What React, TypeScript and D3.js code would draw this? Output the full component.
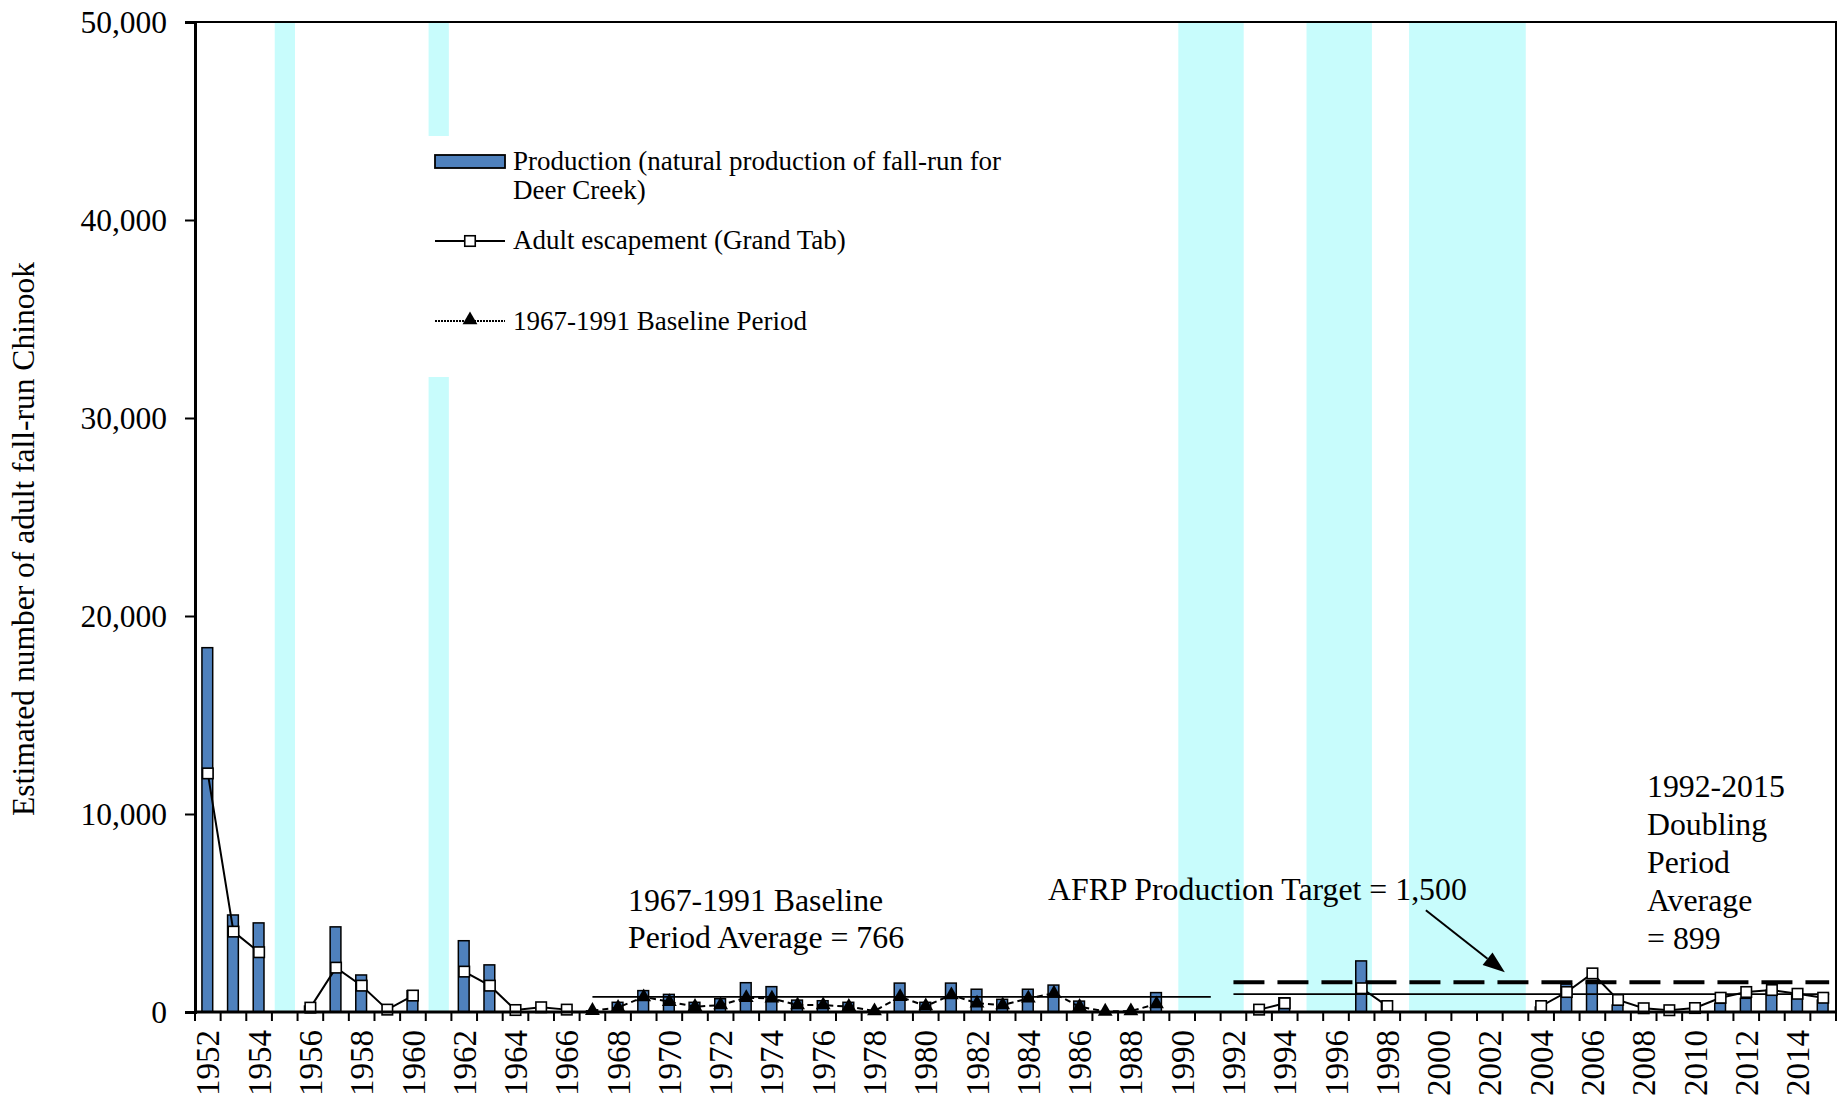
import * as d3 from "d3";
import { useEffect, useRef } from "react";

// categories
const firstYear = 1952;
const lastYear = 2015;
const years = d3.range(firstYear, lastYear + 1);
const labelYears = years.filter((y) => y % 2 === 0);

// natural production of fall-run, Deer Creek (null = no estimate)
const production: (number | null)[] = [
  18400, 4900, 4500, null, 300, 4300, 1870, null,
  1075, null, 3600, 2380, null, null, null, 60, 490, 1080,
  890, 490, 670, 1480, 1280, 600, 570, 490, 50, 1460,
  490, 1460, 1150, 640, 1150, 1360, 550, null, null, 980,
  null, null, null, null, 720, null, null, 2580, 540, null,
  null, null, null, null, 250, 1410, 1600, 350, null, null,
  null, 440, 690, 1100, 920, 600,
];

// adult escapement (Grand Tab), outside the baseline period
const escapement: (number | null)[] = [
  12050, 4060, 3020, null, 220, 2240, 1330, 120,
  830, null, 2040, 1330, 100, 240, 120, null, null, null,
  null, null, null, null, null, null, null, null, null, null,
  null, null, null, null, null, null, null, null, null, null,
  null, null, null, 120, 440, null, null, 1200, 300, null,
  null, null, null, null, 300, 1010, 1950, 610, 190, 90,
  200, 720, 1010, 1110, 920, 720,
];

// 1967-1991 baseline period escapement
const baseline: (number | null)[] = [
  null, null, null, null, null, null, null, null,
  null, null, null, null, null, null, null, 70, 230, 760,
  520, 270, 350, 720, 690, 350, 350, 270, 50, 770,
  300, 860, 440, 350, 690, 940, 270, 30, 50, 400,
  null, null, null, null, null, null, null, null, null, null,
  null, null, null, null, null, null, null, null, null, null,
  null, null, null, null, null, null,
];

// shaded years
const shadedPeriods: [number, number][] = [
  [1955, 1955],
  [1961, 1961],
  [1990, 1992],
  [1995, 1997],
  [1999, 2003],
];

const yTicks = [0, 10000, 20000, 30000, 40000, 50000];
const baselineAvg = { from: 1967, to: 1991, value: 766 };
const doublingAvg = { from: 1992, to: 2015, value: 899 };
const afrpTarget = { from: 1992, to: 2015, value: 1500 };

const FONT = "'Liberation Serif', 'Times New Roman', serif";

function draw(node: SVGSVGElement) {
  const width = 1841;
  const height = 1102;
  const marginTop = 22;
  const marginRight = 5;
  const marginBottom = 90;
  const marginLeft = 195;

  const svg = d3.select(node);
  svg.selectAll("*").remove();
  svg.attr("width", width).attr("height", height).attr("viewBox", [0, 0, width, height].join(" "));

  const x = d3.scaleBand<number>()
      .domain(years)
      .range([marginLeft, width - marginRight])
      .paddingInner(0)
      .paddingOuter(0);
  const bw = x.bandwidth();
  const cx = (yr: number) => (x(yr) ?? 0) + bw / 2;

  const y = d3.scaleLinear()
      .domain([0, 50000])
      .range([height - marginBottom, marginTop]);

  svg.append("rect").attr("width", width).attr("height", height).attr("fill", "white");

  // shaded years
  svg.append("g")
      .attr("fill", "#c8fcfc")
    .selectAll()
    .data(shadedPeriods)
    .join("rect")
      .attr("x", ([a, b]) => (x(a) ?? 0) + bw * (a === b ? 0.11 : 0.35))
      .attr("width", ([a, b]) => (x(b) ?? 0) + bw * 0.9 - ((x(a) ?? 0) + bw * (a === b ? 0.11 : 0.35)))
      .attr("y", y(50000))
      .attr("height", y(0) - y(50000));

  // legend background
  svg.append("rect")
      .attr("x", 420).attr("y", 136)
      .attr("width", 600).attr("height", 241)
      .attr("fill", "white");

  // production bars
  const barW = bw * 0.42;
  const prodData = years.map((yr, i) => ({ yr, v: production[i] })).filter((d) => d.v != null) as { yr: number; v: number }[];
  svg.append("g")
      .attr("fill", "#4f81bd")
      .attr("stroke", "black")
      .attr("stroke-width", 1.5)
    .selectAll()
    .data(prodData)
    .join("rect")
      .attr("x", (d) => cx(d.yr) - barW / 2 - 0.5)
      .attr("width", barW)
      .attr("y", (d) => y(d.v))
      .attr("height", (d) => y(0) - y(d.v));

  // period reference lines
  const refLine = (r: { from: number; to: number; value: number }, extra = 0) =>
    svg.append("line")
        .attr("x1", cx(r.from))
        .attr("x2", cx(r.to) + extra)
        .attr("y1", y(r.value))
        .attr("y2", y(r.value))
        .attr("stroke", "black");
  refLine(baselineAvg, 3).attr("stroke-width", 1.8);
  refLine(doublingAvg, 6).attr("stroke-width", 1.8);
  refLine(afrpTarget, 6).attr("stroke-width", 4).attr("stroke-dasharray", "31,13");

  // baseline period series
  const basePts = years.map((yr, i) => ({ yr, v: baseline[i] }));
  const line = d3.line<{ yr: number; v: number | null }>()
      .defined((d) => d.v != null)
      .x((d) => cx(d.yr))
      .y((d) => y(d.v as number));
  svg.append("path")
      .datum(basePts)
      .attr("fill", "none")
      .attr("stroke", "black")
      .attr("stroke-width", 2)
      .attr("stroke-dasharray", "6,4")
      .attr("d", line);
  const tri = d3.symbol().type(d3.symbolTriangle).size(95);
  svg.append("g")
    .selectAll()
    .data(basePts.filter((d) => d.v != null))
    .join("path")
      .attr("transform", (d) => `translate(${cx(d.yr)},${y(d.v as number)})`)
      .attr("d", tri)
      .attr("fill", "black");

  // escapement series
  const escPts = years.map((yr, i) => ({ yr, v: escapement[i] }));
  svg.append("path")
      .datum(escPts)
      .attr("fill", "none")
      .attr("stroke", "black")
      .attr("stroke-width", 2)
      .attr("d", line);
  const sq = 10.5;
  svg.append("g")
      .attr("fill", "white")
      .attr("stroke", "black")
      .attr("stroke-width", 1.6)
    .selectAll()
    .data(escPts.filter((d) => d.v != null))
    .join("rect")
      .attr("x", (d) => cx(d.yr) - sq / 2)
      .attr("y", (d) => y(d.v as number) - sq / 2)
      .attr("width", sq)
      .attr("height", sq);

  // frame
  svg.append("rect")
      .attr("x", marginLeft).attr("y", marginTop)
      .attr("width", width - marginRight - marginLeft)
      .attr("height", y(0) - marginTop)
      .attr("fill", "none")
      .attr("stroke", "black")
      .attr("stroke-width", 2);

  // y axis
  svg.append("g")
      .attr("transform", `translate(${marginLeft},0)`)
      .call(d3.axisLeft(y).tickValues(yTicks).tickSize(10).tickPadding(18).tickFormat(d3.format(",")))
      .call((g) => g.select(".domain").attr("stroke-width", 3))
      .call((g) => g.selectAll(".tick line").attr("stroke-width", 2))
      .call((g) => g.selectAll(".tick text")
          .attr("font-family", FONT)
          .attr("font-size", 31.5)
          .attr("fill", "black"));

  // x axis: ticks between categories, labels every other year
  const xAxis = svg.append("g");
  xAxis.append("line")
      .attr("x1", marginLeft).attr("x2", width - marginRight)
      .attr("y1", y(0)).attr("y2", y(0))
      .attr("stroke", "black").attr("stroke-width", 3);
  xAxis.selectAll(".tk")
    .data([...years, lastYear + 1])
    .join("line")
      .attr("class", "tk")
      .attr("x1", (d) => (d > lastYear ? width - marginRight : x(d) ?? 0))
      .attr("x2", (d) => (d > lastYear ? width - marginRight : x(d) ?? 0))
      .attr("y1", y(0))
      .attr("y2", y(0) + 9)
      .attr("stroke", "black")
      .attr("stroke-width", 2);
  xAxis.selectAll(".lbl")
    .data(labelYears)
    .join("text")
      .attr("class", "lbl")
      .attr("transform", (d) => `translate(${cx(d)},${y(0) + 18}) rotate(-90)`)
      .attr("text-anchor", "end")
      .attr("dy", "0.35em")
      .attr("font-family", FONT)
      .attr("font-size", 33)
      .text((d) => String(d));

  // y axis title
  svg.append("text")
      .attr("transform", `translate(34,539) rotate(-90)`)
      .attr("text-anchor", "middle")
      .attr("font-family", FONT)
      .attr("font-size", 31.5)
      .text("Estimated number of adult fall-run Chinook");

  // legend
  const lg = svg.append("g").attr("font-family", FONT).attr("font-size", 27);
  lg.append("rect")
      .attr("x", 435).attr("y", 155).attr("width", 70).attr("height", 13)
      .attr("fill", "#4f81bd").attr("stroke", "black").attr("stroke-width", 1.8);
  lg.append("text").attr("x", 513).attr("y", 170).text("Production (natural production of fall-run for");
  lg.append("text").attr("x", 513).attr("y", 199).text("Deer Creek)");
  lg.append("line")
      .attr("x1", 435).attr("x2", 505).attr("y1", 241).attr("y2", 241)
      .attr("stroke", "black").attr("stroke-width", 2);
  lg.append("rect")
      .attr("x", 470 - sq / 2).attr("y", 241 - sq / 2).attr("width", sq).attr("height", sq)
      .attr("fill", "white").attr("stroke", "black").attr("stroke-width", 1.6);
  lg.append("text").attr("x", 513).attr("y", 249).text("Adult escapement (Grand Tab)");
  lg.append("line")
      .attr("x1", 435).attr("x2", 505).attr("y1", 321).attr("y2", 321)
      .attr("stroke", "black").attr("stroke-width", 2).attr("stroke-dasharray", "2,1");
  lg.append("path")
      .attr("transform", "translate(470,320)")
      .attr("d", tri)
      .attr("fill", "black");
  lg.append("text").attr("x", 513).attr("y", 330).text("1967-1991 Baseline Period");

  // annotations
  const ann = svg.append("g").attr("font-family", FONT).attr("font-size", 31.8).attr("fill", "black");
  ann.append("text").attr("x", 628).attr("y", 911).text("1967-1991 Baseline");
  ann.append("text").attr("x", 628).attr("y", 948).text("Period Average = 766");
  ann.append("text").attr("x", 1048).attr("y", 900).text("AFRP Production Target = 1,500");
  ["1992-2015", "Doubling", "Period", "Average", "= 899"].forEach((t, i) => {
    ann.append("text").attr("x", 1647).attr("y", 797 + i * 38).text(t);
  });

  // arrow to target line
  const tipX = cx(2002) + 15;
  const tipY = y(afrpTarget.value) - 10;
  const startX = tipX - 79;
  const startY = tipY - 62;
  const ang = Math.atan2(tipY - startY, tipX - startX);
  const headL = 22;
  const headW = 8;
  const bx = tipX - headL * Math.cos(ang);
  const by = tipY - headL * Math.sin(ang);
  ann.append("line")
      .attr("x1", startX).attr("y1", startY).attr("x2", bx).attr("y2", by)
      .attr("stroke", "black").attr("stroke-width", 2);
  ann.append("path")
      .attr("d", `M${tipX},${tipY}L${bx - headW * Math.sin(ang)},${by + headW * Math.cos(ang)}L${bx + headW * Math.sin(ang)},${by - headW * Math.cos(ang)}Z`)
      .attr("fill", "black");
}

function Chart() {
  const ref = useRef<SVGSVGElement | null>(null);
  useEffect(() => {
    if (ref.current) draw(ref.current);
  }, []);
  return <svg ref={ref} style={{ position: "absolute", left: 0, top: 0, display: "block" }} />;
}

export default function App() {
  return <Chart />;
}
